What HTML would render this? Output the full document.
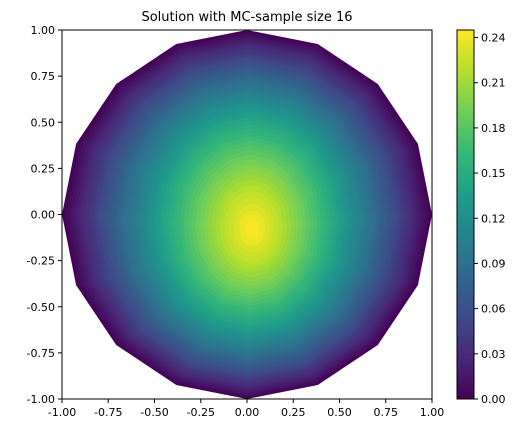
<!DOCTYPE html>
<html><head><meta charset="utf-8"><style>
body{margin:0;background:#fff;font-family:"Liberation Sans","DejaVu Sans",sans-serif}
svg text{font-family:"DejaVu Sans","Liberation Sans",sans-serif}
</style></head><body>
<svg id="chart" width="525" height="433" xmlns="http://www.w3.org/2000/svg">
<text x="247" y="21" font-size="13" text-anchor="middle">Solution with MC-sample size 16</text>
<g id="plot"></g>
<g id="axes"></g>
<g id="cbar"></g>
</svg>
<script>
const xTicks=[-1.00,-0.75,-0.50,-0.25,0.00,0.25,0.50,0.75,1.00];
const yTicks=[-1.00,-0.75,-0.50,-0.25,0.00,0.25,0.50,0.75,1.00];
const cTicks=[0.00,0.03,0.06,0.09,0.12,0.15,0.18,0.21,0.24];
const peakValue=[0.245];
const peakCenter=[0.03,-0.08];
const levelStep=[0.005];
const polygonSides=[16];

const NS="http://www.w3.org/2000/svg";
const X0=62,X1=432,Y0=30,Y1=399;
const sx=v=>X0+(v+1)/2*(X1-X0);
const sy=v=>Y1-(v+1)/2*(Y1-Y0);
const CB={x:457,w:17,top:30,bot:399,max:0.245};
const cy=v=>CB.bot-v/CB.max*(CB.bot-CB.top);
const vir=[[68,1,84],[72,40,120],[62,74,137],[49,104,142],[38,130,142],[31,158,137],[53,183,121],[109,205,89],[180,222,44],[253,231,37]];
function cmap(t){t=Math.max(0,Math.min(1,t))*(vir.length-1);const i=Math.min(vir.length-2,Math.floor(t)),f=t-i;
 const c=vir[i].map((a,k)=>Math.round(a+(vir[i+1][k]-a)*f));return `rgb(${c[0]},${c[1]},${c[2]})`;}
function el(tag,attrs,parent){const e=document.createElementNS(NS,tag);for(const k in attrs)e.setAttribute(k,attrs[k]);parent.appendChild(e);return e;}

const plot=document.getElementById('plot');
const peak=peakValue[0],n=polygonSides[0];
for(let L=0;L<peak;L+=levelStep[0]){
 const f=Math.pow(1-L/peak,0.8);
 const cx=peakCenter[0]*(1-f),cyy=peakCenter[1]*(1-f);
 const ys=1+0.25*(1-f);
 const pts=[];
 for(let k=0;k<n;k++){const a=k*2*Math.PI/n;pts.push(sx(cx+f*Math.cos(a)*(1-0.1*(1-f)))+','+sy(cyy+f*ys*Math.sin(a)));}
 const p=el('polygon',{points:pts.join(' '),fill:cmap((L+levelStep[0]/2)/peak)},plot);
 
 
}
const axes=document.getElementById('axes');
el('rect',{x:X0,y:Y0,width:X1-X0,height:Y1-Y0,fill:'none',stroke:'#000','stroke-width':1},axes);
xTicks.forEach(v=>{const x=sx(v);el('line',{x1:x,x2:x,y1:Y1,y2:Y1+4,stroke:'#000'},axes);
 const t=el('text',{x:x,y:Y1+17,'font-size':11,'text-anchor':'middle'},axes);t.textContent=v.toFixed(2);
 });
yTicks.forEach(v=>{const y=sy(v);el('line',{x1:X0-4,x2:X0,y1:y,y2:y,stroke:'#000'},axes);
 const t=el('text',{x:X0-7,y:y+4,'font-size':11,'text-anchor':'end'},axes);t.textContent=v.toFixed(2);
 });
const cb=document.getElementById('cbar');
for(let i=0;i<200;i++){const v0=i/200*CB.max,v1=(i+1)/200*CB.max;
 el('rect',{x:CB.x,y:cy(v1),width:CB.w,height:cy(v0)-cy(v1)+0.5,fill:cmap((v0+v1)/2/CB.max)},cb);}
el('rect',{x:CB.x,y:CB.top,width:CB.w,height:CB.bot-CB.top,fill:'none',stroke:'#000'},cb);
cTicks.forEach(v=>{const y=cy(v);el('line',{x1:CB.x+CB.w,x2:CB.x+CB.w+4,y1:y,y2:y,stroke:'#000'},cb);
 const t=el('text',{x:CB.x+CB.w+7,y:y+4,'font-size':11},cb);t.textContent=v.toFixed(2);
 });
</script>
</body></html>
